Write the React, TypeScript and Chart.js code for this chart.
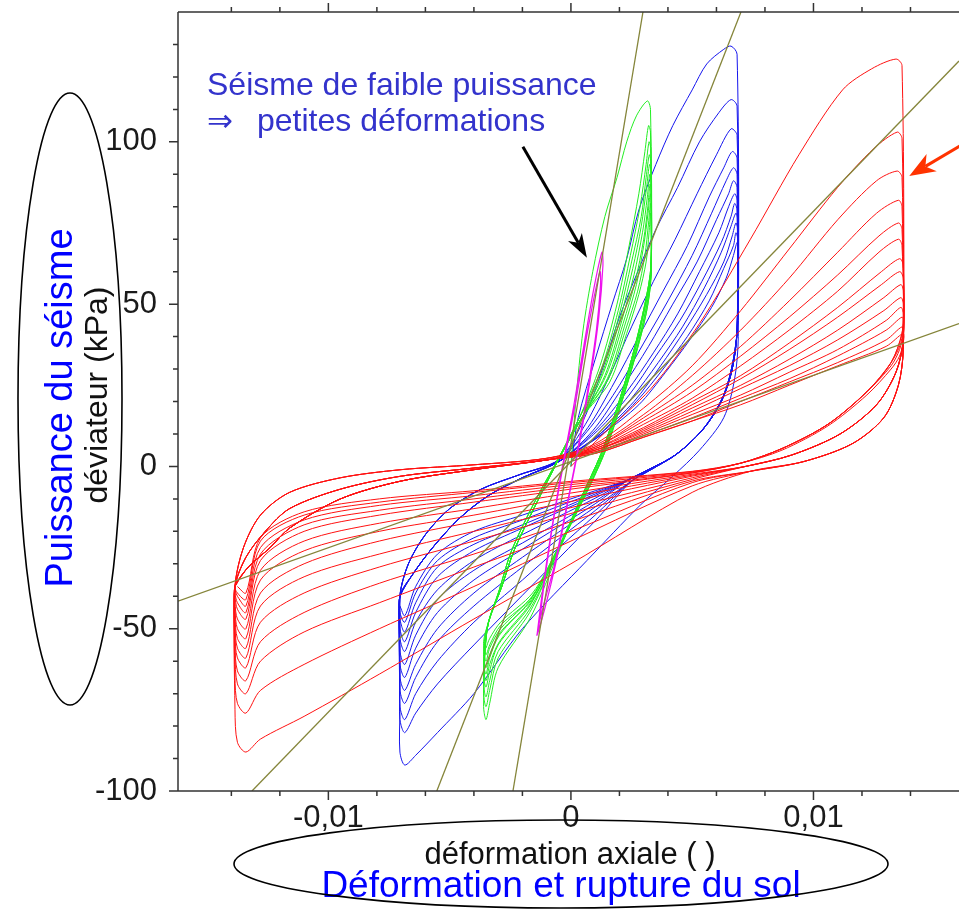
import { useEffect, useRef } from "react";
import { Chart, registerables } from "chart.js";

Chart.register(...registerables);

type P = [number, number];

// x: axial strain in units of 1e-3 ; y: deviator stress in kPa
const X_MIN = -16.2;
const X_MAX = 16.0;
const Y_MIN = -100;
const Y_MAX = 140;
const X_MAJOR = [-10, 0, 10];
const X_MINOR = [-14, -12, -8, -6, -4, -2, 2, 4, 6, 8, 12, 14];
const Y_MAJOR = [-100, -50, 0, 50, 100];
const Y_MINOR = [-90, -80, -70, -60, -40, -30, -20, -10, 10, 20, 30, 40, 60, 70, 80, 90, 110, 120, 130];

// olive reference lines
const OLIVE_A: P[] = [[2.97, 140], [-2.39, -100]];
const OLIVE_B: P[] = [[7.01, 140], [-5.53, -100]];
const OLIVE_C: P[] = [[-13.15, -100], [16.0, 124.9]];
const OLIVE_D: P[] = [[-16.2, -41.5], [16.0, 44]];

// annotation arrows (data coordinates)
const ARROW_BLACK: P[] = [[-1.98, 98.5], [0.66, 64.3]];
const ARROW_RED: P[] = [[17.1, 103.4], [13.95, 89.5]];

const RED_LOOPS: P[][] = [
  [[0, 0], [1.2, 9], [3.3, 24], [5.3, 44], [7.4, 70], [9.4, 96], [11.2, 116], [12.4, 122.5], [13.4, 125.5],
   [13.65, 123.5], [13.7, 36], [13.5, 25], [12.9, 15], [11.6, 7], [9.6, 1.5], [7.4, -1.5], [5, -8], [0, -30], [-4, -47], [-7.9, -64], [-11, -77], [-12.8, -84], [-13.4, -88], [-13.75, -85], [-13.85, -75]],
  [[-13.85, -37], [-13.5, -25], [-12.8, -15], [-11.6, -8], [-9.5, -3.5], [-7, -1], [-4, 0.5], [-1, 2.5],
   [1, 7], [3, 18], [5, 31], [7, 48], [9, 67], [11, 86], [12.5, 98], [13.45, 103],
   [13.65, 101], [13.7, 36], [13.5, 25], [12.9, 15], [11.6, 7], [9.6, 1.5], [7.4, -1.5], [5, -6], [0, -23], [-4, -37], [-7.9, -50], [-11, -61], [-12.8, -69], [-13.4, -76], [-13.75, -73], [-13.85, -65]],
  [[-13.85, -37], [-13.5, -25], [-12.8, -15], [-11.6, -8], [-9.5, -3.5], [-7, -1], [-4, 0.5], [-1, 2.5],
   [1, 6.5], [3, 16], [5, 28], [7, 42], [9, 58], [11, 76], [12.6, 88], [13.45, 91],
   [13.65, 89], [13.7, 36], [13.5, 25], [12.9, 15], [11.6, 7], [9.6, 1.5], [7.4, -1.5], [5, -5], [0, -20], [-4, -31], [-7.9, -42], [-11, -51], [-12.8, -60], [-13.4, -70], [-13.75, -67], [-13.85, -58]],
  [[-13.85, -37], [-13.5, -25], [-12.8, -15], [-11.6, -8], [-9.5, -3.5], [-7, -1], [-4, 0.5], [-1, 2.5],
   [1, 6], [3, 15], [5, 25], [7, 37], [9, 51], [11, 66], [12.6, 78], [13.5, 82],
   [13.65, 80], [13.7, 36], [13.5, 25], [12.9, 15], [11.6, 7], [9.6, 1.5], [7.4, -1.5], [5, -4.5], [0, -17], [-4, -27], [-7.9, -36], [-11, -45], [-12.8, -54], [-13.4, -66], [-13.75, -63], [-13.85, -55]],
  [[-13.85, -37], [-13.4, -28], [-12.6, -20], [-11.6, -13], [-9.5, -7], [-7, -3], [-4, -0.5], [-1, 2],
   [1, 6], [3, 14], [5, 23], [7, 34], [9, 46], [11, 59], [12.7, 71], [13.5, 75],
   [13.65, 73], [13.7, 39], [13.4, 29], [12.6, 19], [11.1, 10], [9.1, 3.5], [7.2, 0], [5, -4], [0, -14.5], [-4, -23], [-7.9, -31], [-11, -39], [-12.8, -48], [-13.4, -62], [-13.75, -59], [-13.85, -52]],
  [[-13.85, -37], [-13.4, -28], [-12.6, -20], [-11.6, -13], [-9.5, -7], [-7, -3], [-4, -0.5], [-1, 2],
   [1, 5.5], [3, 13], [5, 21], [7, 31], [9, 42], [11, 54], [12.7, 66], [13.5, 70],
   [13.65, 68], [13.7, 39], [13.4, 29], [12.6, 19], [11.1, 10], [9.1, 3.5], [7.2, 0], [5, -3.5], [0, -12.7], [-4, -20], [-7.9, -27], [-11, -34], [-12.8, -43], [-13.4, -59], [-13.75, -56], [-13.85, -49]],
  [[-13.85, -37], [-13.4, -28], [-12.6, -20], [-11.6, -13], [-9.5, -7], [-7, -3], [-4, -0.5], [-1, 2],
   [1, 5.5], [3, 12], [5, 20], [7, 28], [9, 38], [11, 49], [12.8, 60], [13.55, 64],
   [13.7, 62], [13.7, 39], [13.4, 29], [12.6, 19], [11.1, 10], [9.1, 3.5], [7.2, 0], [5, -3], [0, -10.8], [-4, -17], [-7.9, -23], [-11, -30], [-12.8, -39], [-13.4, -56], [-13.75, -53], [-13.85, -46]],
  [[-13.85, -37], [-13.4, -28], [-12.6, -20], [-11.6, -13], [-9.5, -7], [-7, -3], [-4, -0.5], [-1, 2],
   [1, 5], [3, 11.5], [5, 19], [7, 27], [9, 36], [11, 46], [12.8, 56], [13.55, 60],
   [13.7, 58], [13.7, 39], [13.4, 29], [12.6, 19], [11.1, 10], [9.1, 3.5], [7.2, 0], [5, -2.7], [0, -9.4], [-4, -15], [-7.9, -20], [-11, -26], [-12.8, -35], [-13.4, -53], [-13.75, -50], [-13.85, -44]],
  [[-13.85, -37], [-13.3, -31], [-12.4, -25], [-11.6, -19], [-9.5, -10], [-7, -4.5], [-4, -1], [-1, 2],
   [1, 5], [3, 11], [5, 18], [7, 25], [9, 33], [11, 42], [12.9, 52], [13.6, 56],
   [13.7, 54], [13.7, 39], [13.4, 29], [12.6, 19], [11.1, 10], [9.1, 3.5], [7.2, 0], [5, -2.4], [0, -8.2], [-4, -13], [-7.9, -17.5], [-11, -23], [-12.8, -32], [-13.4, -50], [-13.75, -47], [-13.85, -42]],
  [[-13.85, -37], [-13.3, -31], [-12.4, -25], [-11.6, -19], [-9.5, -10], [-7, -4.5], [-4, -1], [-1, 2],
   [1, 5], [3, 10.5], [5, 17], [7, 24], [9, 31], [11, 39], [12.9, 48], [13.6, 52],
   [13.7, 50], [13.65, 41], [13.2, 32], [12.2, 23], [10.6, 13], [8.7, 5.5], [7, 1], [5, -2], [0, -7], [-4, -11], [-7.9, -15], [-11, -20], [-12.8, -29], [-13.4, -47], [-13.75, -44], [-13.85, -40]],
  [[-13.85, -37], [-13.3, -31], [-12.4, -25], [-11.6, -19], [-9.5, -10], [-7, -4.5], [-4, -1], [-1, 2],
   [1, 4.5], [3, 10], [5, 16], [7, 22], [9, 29], [11, 36], [13, 45], [13.6, 49],
   [13.7, 47], [13.65, 41], [13.2, 32], [12.2, 23], [10.6, 13], [8.7, 5.5], [7, 1], [5, -2], [0, -6.3], [-4, -10], [-7.9, -13.5], [-11, -18], [-12.8, -27], [-13.4, -45], [-13.75, -42], [-13.85, -39]],
  [[-13.85, -37], [-13.3, -31], [-12.4, -25], [-11.6, -19], [-9.5, -10], [-7, -4.5], [-4, -1], [-1, 2],
   [1, 4.5], [3, 9.5], [5, 15], [7, 21], [9, 27], [11, 34], [13, 42], [13.65, 46],
   [13.7, 44], [13.6, 38], [13.2, 32], [12.2, 23], [10.6, 13], [8.7, 5.5], [7, 1], [5, -1.8], [0, -5.6], [-4, -9], [-7.9, -12], [-11, -16.5], [-12.8, -25], [-13.4, -43], [-13.75, -40], [-13.85, -38]],
  [[-13.85, -37], [-13.3, -31], [-12.4, -25], [-11.6, -19], [-9.5, -10], [-7, -4.5], [-4, -1], [-1, 2],
   [1, 4], [3, 9], [5, 14], [7, 20], [9, 26], [11, 32], [13, 39], [13.65, 43],
   [13.7, 41], [13.55, 36], [13.2, 31], [12.2, 23], [10.6, 13], [8.7, 5.5], [7, 1], [5, -1.6], [0, -5], [-4, -8], [-7.9, -11], [-11, -15], [-12.8, -23], [-13.4, -41], [-13.75, -39]],
  [[-13.85, -37], [-13.3, -31], [-12.4, -25], [-11.6, -19], [-9.5, -10], [-7, -4.5], [-4, -1], [-1, 2],
   [1, 4], [3, 9], [5, 14], [7, 19], [9, 25], [11, 31], [13, 37], [13.7, 41],
   [13.72, 39], [13.55, 34], [13.2, 30], [12.2, 22], [10.6, 12.5], [8.7, 5], [7, 1], [5, -1.5], [0, -4.6], [-4, -7.5], [-7.9, -10], [-11, -14], [-12.8, -22], [-13.4, -39], [-13.75, -37]],
];

const BLUE_LOOPS: P[][] = [
  [[0, 0], [0.3, 15], [1.0, 33], [1.7, 50], [2.3, 64], [2.8, 79], [3.5, 93], [4.2, 105], [5.0, 116], [5.6, 124], [6.3, 128.5], [6.6, 129.5],
   [6.85, 127], [6.9, 40], [6.75, 27], [6.3, 15], [5.3, 5], [4.2, -3], [2.85, -12], [0.66, -29], [-2, -50], [-4, -70], [-5.5, -82], [-6.4, -89], [-6.85, -92], [-7.05, -88], [-7.05, -75]],
  [[-7.05, -40], [-6.7, -30], [-6.0, -21], [-5.0, -13], [-3.7, -7], [-2.1, -2.5], [-0.5, 2],
   [0.5, 14], [1.3, 30], [2.0, 46], [2.7, 59], [3.5, 73], [4.4, 86], [5.3, 100], [6.1, 109], [6.6, 113],
   [6.85, 111], [6.88, 45], [6.7, 33], [6.3, 22], [5.5, 12], [4.4, 4], [3.3, -1], [2.5, -4.5], [1, -16.8], [-2, -39.7], [-4, -55], [-5.5, -67], [-6.4, -76], [-6.85, -82], [-7.05, -78], [-7.05, -68]],
  [[-7.05, -40], [-6.7, -30], [-6.0, -21], [-5.0, -13], [-3.7, -7], [-2.1, -2.5], [-0.5, 2],
   [0.6, 13], [1.6, 28], [2.5, 43], [3.4, 57], [4.3, 70], [5.2, 84], [6.0, 96], [6.6, 104],
   [6.85, 102], [6.88, 45], [6.7, 33], [6.3, 22], [5.5, 12], [4.4, 4], [3.3, -1], [2.5, -4.5], [1, -15], [-2, -35], [-4, -48], [-5.5, -60], [-6.4, -70], [-6.85, -78], [-7.05, -74], [-7.05, -64]],
  [[-7.05, -40], [-6.7, -30], [-6.0, -21], [-5.0, -13], [-3.7, -7], [-2.1, -2.5], [-0.5, 2],
   [0.7, 12], [1.8, 26], [2.8, 40], [3.8, 54], [4.8, 68], [5.7, 83], [6.3, 92], [6.65, 97],
   [6.85, 95], [6.88, 45], [6.7, 33], [6.3, 22], [5.5, 12], [4.4, 4], [3.3, -1], [2.5, -4.5], [1, -13.6], [-2, -31], [-4, -43], [-5.5, -54], [-6.4, -65], [-6.85, -73], [-7.05, -69], [-7.05, -60]],
  [[-7.05, -40], [-6.7, -30], [-6.0, -21], [-5.0, -13], [-3.7, -7], [-2.1, -2.5], [-0.5, 2],
   [0.8, 12], [2.0, 25], [3.0, 38], [4.0, 51], [5.0, 65], [5.8, 78], [6.4, 88], [6.7, 92],
   [6.85, 90], [6.88, 45], [6.7, 33], [6.3, 22], [5.5, 12], [4.4, 4], [3.3, -1], [2.5, -4.5], [1, -12.5], [-2, -28], [-4, -39], [-5.5, -50], [-6.4, -61], [-6.85, -69], [-7.05, -65], [-7.05, -56]],
  [[-7.05, -40], [-6.5, -33], [-5.7, -25], [-4.6, -16], [-3.4, -9], [-2, -3.5], [-0.5, 1.5],
   [0.9, 11], [2.1, 24], [3.2, 37], [4.2, 50], [5.2, 63], [6.0, 76], [6.5, 84], [6.7, 88],
   [6.85, 86], [6.85, 42], [6.65, 30], [6.2, 20], [5.4, 11], [4.3, 3.5], [3.2, -1], [2.4, -4], [1, -11.5], [-2, -25.5], [-4, -35], [-5.5, -45], [-6.4, -56], [-6.85, -65], [-7.05, -61], [-7.05, -52]],
  [[-7.05, -40], [-6.5, -33], [-5.7, -25], [-4.6, -16], [-3.4, -9], [-2, -3.5], [-0.5, 1.5],
   [1.0, 11], [2.3, 23], [3.4, 35], [4.4, 47], [5.3, 60], [6.1, 72], [6.5, 80], [6.75, 84],
   [6.85, 82], [6.85, 42], [6.65, 30], [6.2, 20], [5.4, 11], [4.3, 3.5], [3.2, -1], [2.4, -4], [1, -10.7], [-2, -23.6], [-4, -32], [-5.5, -41], [-6.4, -52], [-6.85, -61], [-7.05, -57], [-7.05, -49]],
  [[-7.05, -40], [-6.5, -33], [-5.7, -25], [-4.6, -16], [-3.4, -9], [-2, -3.5], [-0.5, 1.5],
   [1.1, 11], [2.4, 22], [3.5, 34], [4.5, 45], [5.4, 57], [6.2, 69], [6.6, 77], [6.75, 81],
   [6.85, 79], [6.85, 42], [6.65, 30], [6.2, 20], [5.4, 11], [4.3, 3.5], [3.2, -1], [2.4, -4], [1, -9.8], [-2, -21], [-4, -29], [-5.5, -38], [-6.4, -48], [-6.85, -57], [-7.05, -53], [-7.05, -46]],
  [[-7.05, -40], [-6.5, -33], [-5.7, -25], [-4.6, -16], [-3.4, -9], [-2, -3.5], [-0.5, 1.5],
   [1.2, 10], [2.5, 21], [3.6, 32], [4.6, 43], [5.5, 55], [6.2, 66], [6.6, 74], [6.8, 78],
   [6.88, 76], [6.85, 42], [6.65, 30], [6.2, 20], [5.4, 11], [4.3, 3.5], [3.2, -1], [2.4, -4], [1, -9], [-2, -19], [-4, -26], [-5.5, -34], [-6.4, -45], [-6.85, -54], [-7.05, -50], [-7.05, -44]],
  [[-7.05, -40], [-6.5, -33], [-5.7, -25], [-4.6, -16], [-3.4, -9], [-2, -3.5], [-0.5, 1.5],
   [1.2, 10], [2.6, 20], [3.7, 31], [4.7, 42], [5.6, 53], [6.3, 63], [6.65, 71], [6.8, 75],
   [6.88, 73], [6.85, 42], [6.65, 30], [6.2, 20], [5.4, 11], [4.3, 3.5], [3.2, -1], [2.4, -4], [1, -8.5], [-2, -18], [-4, -24], [-5.5, -31], [-6.4, -42], [-6.85, -51], [-7.05, -47], [-7.05, -42]],
  [[-7.05, -40], [-6.5, -33], [-5.7, -25], [-4.6, -16], [-3.4, -9], [-2, -3.5], [-0.5, 1.5],
   [1.3, 10], [2.7, 20], [3.8, 30], [4.8, 40], [5.7, 51], [6.3, 61], [6.7, 68], [6.8, 72],
   [6.88, 70], [6.85, 42], [6.65, 30], [6.2, 20], [5.4, 11], [4.3, 3.5], [3.2, -1], [2.4, -4], [1, -8], [-2, -16.5], [-4, -22], [-5.5, -29], [-6.4, -39], [-6.85, -48], [-7.05, -45]],
  [[-7.05, -40], [-6.5, -33], [-5.7, -25], [-4.6, -16], [-3.4, -9], [-2, -3.5], [-0.5, 1.5],
   [1.3, 10], [2.8, 19], [3.9, 29], [4.9, 39], [5.8, 49], [6.4, 58], [6.7, 65], [6.85, 69],
   [6.9, 67], [6.85, 42], [6.65, 30], [6.2, 20], [5.4, 11], [4.3, 3.5], [3.2, -1], [2.4, -4], [1, -7.5], [-2, -15], [-4, -20], [-5.5, -27], [-6.4, -37], [-6.85, -46], [-7.05, -43]],
];

const GREEN_LOOPS: P[][] = [
  [[0, 0], [0.2, 20], [0.5, 42], [0.9, 60], [1.4, 77], [1.9, 89], [2.3, 100], [2.7, 108], [3.15, 112.6],
   [3.28, 110], [3.3, 62], [3.05, 50], [2.5, 33], [1.9, 18], [1.25, 4], [0.4, -10], [-0.7, -30], [-1.7, -47], [-3.0, -62], [-3.35, -73], [-3.5, -78], [-3.6, -74]],
  [[-3.45, -50], [-2.95, -38], [-2.45, -26], [-1.5, -11], [-0.55, 2], [0.35, 15],
   [1.2, 31], [1.9, 50], [2.4, 68], [2.8, 84], [3.05, 97], [3.2, 105],
   [3.28, 103], [3.3, 62], [3.05, 50], [2.5, 33], [1.9, 18], [1.25, 4], [0.4, -10], [-0.7, -29], [-1.7, -45], [-3.0, -59], [-3.35, -69], [-3.5, -74], [-3.6, -70]],
  [[-3.45, -50], [-2.95, -38], [-2.45, -26], [-1.5, -11], [-0.55, 2], [0.35, 15],
   [1.25, 30], [1.95, 48], [2.45, 65], [2.85, 80], [3.1, 93], [3.22, 100],
   [3.29, 98], [3.3, 62], [3.05, 50], [2.5, 33], [1.9, 18], [1.25, 4], [0.4, -10], [-0.7, -29], [-1.7, -44], [-3.0, -57], [-3.35, -66], [-3.5, -71], [-3.6, -67]],
  [[-3.45, -50], [-2.95, -38], [-2.45, -26], [-1.5, -11], [-0.55, 2], [0.35, 15],
   [1.3, 29], [2.0, 47], [2.5, 63], [2.9, 77], [3.1, 89], [3.23, 96],
   [3.29, 94], [3.3, 61], [3.05, 49], [2.5, 33], [1.9, 18], [1.25, 4], [0.4, -10], [-0.7, -28], [-1.7, -43], [-3.0, -55], [-3.35, -63], [-3.5, -68], [-3.6, -64]],
  [[-3.4, -48], [-2.85, -37], [-2.35, -26], [-1.4, -11], [-0.45, 3], [0.45, 15],
   [1.35, 29], [2.05, 46], [2.55, 61], [2.9, 74], [3.12, 86], [3.24, 93],
   [3.3, 91], [3.3, 60], [3.05, 49], [2.55, 33], [1.95, 18], [1.3, 4], [0.45, -10], [-0.65, -28], [-1.65, -42], [-2.95, -54], [-3.35, -61], [-3.5, -66], [-3.6, -62]],
  [[-3.4, -48], [-2.85, -37], [-2.35, -26], [-1.4, -11], [-0.45, 3], [0.45, 15],
   [1.4, 28], [2.1, 45], [2.6, 59], [2.95, 72], [3.15, 83], [3.25, 90],
   [3.3, 88], [3.3, 60], [3.05, 49], [2.55, 33], [1.95, 18], [1.3, 4], [0.45, -10], [-0.65, -27], [-1.65, -41], [-2.95, -52], [-3.35, -59], [-3.5, -64], [-3.6, -60]],
  [[-3.4, -48], [-2.85, -37], [-2.35, -26], [-1.4, -11], [-0.45, 3], [0.45, 15],
   [1.45, 28], [2.15, 44], [2.65, 57], [3.0, 70], [3.17, 80], [3.26, 87],
   [3.3, 85], [3.3, 59], [3.08, 48], [2.6, 33], [2.0, 18], [1.35, 4], [0.5, -10], [-0.6, -27], [-1.6, -41], [-2.9, -51], [-3.35, -58], [-3.5, -62], [-3.6, -58]],
  [[-3.4, -48], [-2.85, -37], [-2.35, -26], [-1.4, -11], [-0.45, 3], [0.45, 15],
   [1.5, 27], [2.2, 43], [2.7, 56], [3.0, 68], [3.18, 78], [3.27, 84],
   [3.3, 82], [3.3, 59], [3.08, 48], [2.6, 33], [2.0, 18], [1.35, 4], [0.5, -10], [-0.6, -26], [-1.6, -40], [-2.9, -50], [-3.35, -56], [-3.5, -60], [-3.6, -56]],
  [[-3.4, -48], [-2.85, -37], [-2.35, -26], [-1.4, -11], [-0.45, 3], [0.45, 15],
   [1.55, 27], [2.25, 42], [2.75, 54], [3.05, 65], [3.2, 75], [3.28, 81],
   [3.3, 79], [3.3, 58], [3.1, 47], [2.62, 33], [2.02, 18], [1.38, 4], [0.52, -10], [-0.58, -26], [-1.58, -40], [-2.9, -49], [-3.35, -55], [-3.5, -58], [-3.6, -54]],
  [[-3.4, -48], [-2.85, -37], [-2.35, -26], [-1.4, -11], [-0.45, 3], [0.45, 15],
   [1.6, 26], [2.3, 41], [2.8, 53], [3.1, 63], [3.22, 72], [3.28, 78],
   [3.3, 76], [3.3, 58], [3.1, 47], [2.62, 33], [2.02, 18], [1.38, 4], [0.52, -10], [-0.58, -26], [-1.58, -39], [-2.9, -48], [-3.35, -53], [-3.5, -56]],
];

const MAGENTA_LOOPS: P[][] = [
  [[-1.4, -52], [-1.2, -40], [-0.85, -22], [-0.4, -2], [0.1, 18], [0.55, 38], [0.95, 55], [1.28, 66],
   [1.32, 62], [1.15, 46], [0.8, 27], [0.35, 7], [-0.15, -12], [-0.6, -29], [-1.05, -43], [-1.4, -52]],
  [[-1.3, -48], [-1.1, -36], [-0.75, -18], [-0.3, 1], [0.2, 20], [0.6, 38], [0.95, 52], [1.2, 60],
   [1.22, 56], [1.05, 42], [0.7, 24], [0.25, 4], [-0.25, -15], [-0.7, -31], [-1.1, -42], [-1.3, -48]],
];

const FONT = "'Liberation Sans', Arial, Helvetica, sans-serif";

const toXY = (pts: P[]) => pts.map(([x, y]) => ({ x, y }));

function drawArrow(ctx: CanvasRenderingContext2D, x1: number, y1: number, x2: number, y2: number,
  color: string, lw: number, headLen: number, headW: number) {
  const ang = Math.atan2(y2 - y1, x2 - x1);
  const c = Math.cos(ang), s = Math.sin(ang);
  const bx = x2 - headLen * c, by = y2 - headLen * s;
  const nx = x2 - headLen * 0.72 * c, ny = y2 - headLen * 0.72 * s;
  ctx.strokeStyle = color;
  ctx.fillStyle = color;
  ctx.lineWidth = lw;
  ctx.beginPath();
  ctx.moveTo(x1, y1);
  ctx.lineTo(nx, ny);
  ctx.stroke();
  ctx.beginPath();
  ctx.moveTo(x2, y2);
  ctx.lineTo(bx - (headW / 2) * s, by + (headW / 2) * c);
  ctx.lineTo(nx, ny);
  ctx.lineTo(bx + (headW / 2) * s, by - (headW / 2) * c);
  ctx.closePath();
  ctx.fill();
}

const decorPlugin = {
  id: "decor",
  afterDatasetsDraw(chart: any) {
    const { ctx, chartArea: a, scales } = chart;
    const xs = scales.x, ys = scales.y;
    ctx.save();
    ctx.strokeStyle = "#333";
    ctx.lineWidth = 1.5;
    ctx.beginPath();
    ctx.moveTo(a.left, a.top); ctx.lineTo(a.right, a.top);
    ctx.moveTo(a.left, a.top); ctx.lineTo(a.left, a.bottom);
    ctx.moveTo(a.left, a.bottom); ctx.lineTo(a.right, a.bottom);
    for (const v of X_MAJOR) {
      const p = xs.getPixelForValue(v);
      ctx.moveTo(p, a.top); ctx.lineTo(p, a.top - 9);
      ctx.moveTo(p, a.bottom); ctx.lineTo(p, a.bottom + 9);
    }
    for (const v of X_MINOR) {
      const p = xs.getPixelForValue(v);
      ctx.moveTo(p, a.top); ctx.lineTo(p, a.top - 5);
      ctx.moveTo(p, a.bottom); ctx.lineTo(p, a.bottom + 5);
    }
    for (const v of Y_MAJOR) {
      const p = ys.getPixelForValue(v);
      ctx.moveTo(a.left, p); ctx.lineTo(a.left - 9, p);
    }
    for (const v of Y_MINOR) {
      const p = ys.getPixelForValue(v);
      ctx.moveTo(a.left, p); ctx.lineTo(a.left - 5, p);
    }
    ctx.stroke();

    drawArrow(ctx,
      xs.getPixelForValue(ARROW_BLACK[0][0]), ys.getPixelForValue(ARROW_BLACK[0][1]),
      xs.getPixelForValue(ARROW_BLACK[1][0]), ys.getPixelForValue(ARROW_BLACK[1][1]),
      "#000", 3, 24, 16);
    drawArrow(ctx,
      xs.getPixelForValue(ARROW_RED[0][0]), ys.getPixelForValue(ARROW_RED[0][1]),
      xs.getPixelForValue(ARROW_RED[1][0]), ys.getPixelForValue(ARROW_RED[1][1]),
      "#ff3300", 3, 26, 20);
    ctx.restore();
  },
  afterDraw(chart: any) {
    const ctx: CanvasRenderingContext2D = chart.ctx;
    ctx.save();
    ctx.fillStyle = "#3333cc";
    ctx.textAlign = "left";
    ctx.textBaseline = "alphabetic";
    ctx.font = `32px ${FONT}`;
    ctx.fillText("Séisme de faible puissance", 207, 95);
    ctx.fillText("petites déformations", 257, 131);
    ctx.font = `31px 'DejaVu Sans', ${FONT}`;
    ctx.fillText("⇒", 207, 131);

    ctx.fillStyle = "#111";
    ctx.font = `32px ${FONT}`;
    ctx.save();
    ctx.translate(107, 395);
    ctx.rotate(-Math.PI / 2);
    ctx.textAlign = "center";
    ctx.fillText("déviateur (kPa)", 0, 0);
    ctx.restore();

    ctx.fillStyle = "#0000ff";
    ctx.font = `38px ${FONT}`;
    ctx.save();
    ctx.translate(72, 408);
    ctx.rotate(-Math.PI / 2);
    ctx.textAlign = "center";
    ctx.fillText("Puissance du séisme", 0, 0);
    ctx.restore();

    ctx.textAlign = "center";
    ctx.fillStyle = "#111";
    ctx.font = `31px ${FONT}`;
    ctx.fillText("déformation axiale ( )", 570, 864);
    ctx.fillStyle = "#0000ff";
    ctx.font = `37px ${FONT}`;
    ctx.fillText("Déformation et rupture du sol", 561, 897);

    ctx.strokeStyle = "#000";
    ctx.lineWidth = 1.6;
    ctx.beginPath();
    ctx.ellipse(70, 399, 52, 306, 0, 0, Math.PI * 2);
    ctx.stroke();
    ctx.beginPath();
    ctx.ellipse(561, 864, 327, 44, 0, 0, Math.PI * 2);
    ctx.stroke();
    ctx.restore();
  },
};

export default function App() {
  const ref = useRef<HTMLCanvasElement | null>(null);
  useEffect(() => {
    if (!ref.current) return;
    const line = (data: P[], color: string, width: number, order: number, tension: number) => ({
      data: toXY(data),
      showLine: true,
      borderColor: color,
      backgroundColor: color,
      borderWidth: width,
      pointRadius: 0,
      tension,
      fill: false,
      order,
    });
    const chart = new Chart(ref.current, {
      type: "scatter",
      data: {
        datasets: [
          line(OLIVE_A, "#85853a", 1.3, 0, 0),
          line(OLIVE_B, "#85853a", 1.3, 0, 0),
          line(OLIVE_C, "#85853a", 1.3, 0, 0),
          line(OLIVE_D, "#85853a", 1.3, 0, 0),
          line(MAGENTA_LOOPS.flat(), "#ee11ee", 1.2, 1, 0.3),
          line(RED_LOOPS.flat(), "#ff1111", 1, 2, 0.3),
          line(GREEN_LOOPS.flat(), "#22ee22", 1, 3, 0.3),
          line(BLUE_LOOPS.flat(), "#1515ee", 1, 4, 0.3),
        ] as any,
      },
      options: {
        animation: false,
        responsive: false,
        devicePixelRatio: 1,
        events: [],
        layout: { padding: { top: 12, left: 0, right: 0, bottom: 0 } },
        plugins: { legend: { display: false }, tooltip: { enabled: false } },
        scales: {
          x: {
            type: "linear",
            min: X_MIN,
            max: X_MAX,
            grid: { display: false },
            border: { display: false },
            afterBuildTicks: (s: any) => { s.ticks = X_MAJOR.map((v) => ({ value: v })); },
            afterFit: (s: any) => { s.height = 118; s.paddingLeft = 0; s.paddingRight = 0; },
            ticks: {
              autoSkip: false,
              maxRotation: 0,
              padding: 1,
              color: "#1a1a1a",
              font: { family: FONT, size: 31 },
              callback: (v: any) => (v === 0 ? "0" : String(v / 1000).replace(".", ",")),
            },
          },
          y: {
            type: "linear",
            min: Y_MIN,
            max: Y_MAX,
            grid: { display: false },
            border: { display: false },
            afterBuildTicks: (s: any) => { s.ticks = Y_MAJOR.map((v) => ({ value: v })); },
            afterFit: (s: any) => { s.width = 178; s.paddingTop = 0; s.paddingBottom = 0; },
            ticks: {
              autoSkip: false,
              padding: 13,
              color: "#1a1a1a",
              font: { family: FONT, size: 31 },
              callback: (v: any) => String(v),
            },
          },
        },
      },
      plugins: [decorPlugin],
    });
    return () => chart.destroy();
  }, []);
  return (
    <div style={{ position: "absolute", left: 0, top: 0, width: 959, height: 909, background: "#fff" }}>
      <canvas ref={ref} width={959} height={909} style={{ display: "block" }} />
    </div>
  );
}
